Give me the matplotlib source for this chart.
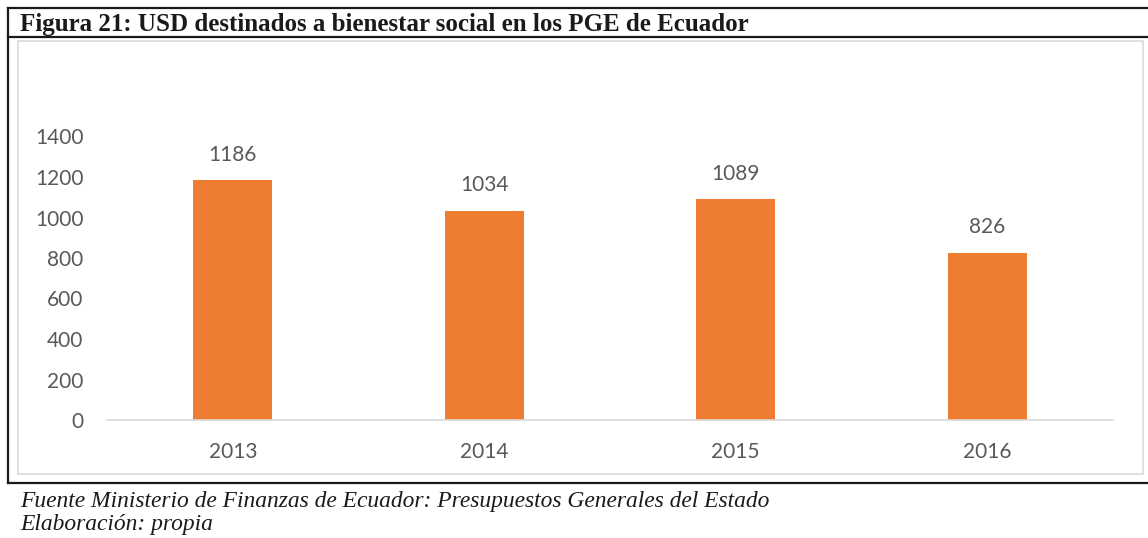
import matplotlib.pyplot as plt
from matplotlib.lines import Line2D
from matplotlib.patches import Rectangle

# Data
years = ['2013', '2014', '2015', '2016']
usd = [1186, 1034, 1089, 826]

W, H = 1148, 538
BAR = '#ED7D31'
GREY_TXT = '#595959'


def fx(px):
    return px / W


def fy(py):
    return 1 - py / H


fig = plt.figure(figsize=(W / 100, H / 100), dpi=100)

# Outer black frame (title box + chart box)
for x0, y0, x1, y1 in [(8, 8, W, 8), (8, 37, W, 37), (8, 483, W, 483), (8, 8, 8, 483)]:
    fig.add_artist(Line2D([fx(x0), fx(x1)], [fy(y0), fy(y1)], color='#1a1a1a', lw=1.6))

# Light grey chart area border
fig.add_artist(Rectangle((fx(18), fy(474)), fx(1143 - 18), (474 - 41) / H,
                         fill=False, edgecolor='#D9D9D9', lw=1.2))

fig.text(fx(20), fy(31), 'Figura 21: USD destinados a bienestar social en los PGE de Ecuador',
         family='Liberation Serif', fontweight='bold', fontsize=18, color='#1a1a1a', va='baseline')
fig.text(fx(20), fy(507), 'Fuente Ministerio de Finanzas de Ecuador: Presupuestos Generales del Estado',
         family='Liberation Serif', style='italic', fontsize=16.9, color='#1a1a1a', va='baseline')
fig.text(fx(20), fy(530), 'Elaboración: propia',
         family='Liberation Serif', style='italic', fontsize=16.9, color='#1a1a1a', va='baseline')

ax = fig.add_axes([fx(107), fy(420), fx(1113 - 107), (420 - 136.5) / H])
x = range(len(years))
bars = ax.bar(x, usd, width=0.314, color=BAR)
for b, v in zip(bars, usd):
    ax.annotate(str(v), (b.get_x() + b.get_width() / 2, v), xytext=(0, 11),
                textcoords='offset points', ha='center', va='bottom',
                fontsize=15, color=GREY_TXT, family='Lato')

ax.set_xlim(-0.5, 3.5)
ax.set_ylim(0, 1400)
ax.set_yticks(range(0, 1401, 200))
ax.set_xticks(list(x))
ax.set_xticklabels(years)
ax.tick_params(length=0, labelsize=15, labelcolor=GREY_TXT)
ax.tick_params(axis='y', pad=17)
ax.tick_params(axis='x', pad=16)
for lbl in ax.get_xticklabels() + ax.get_yticklabels():
    lbl.set_family('Lato')
for s in ['top', 'right', 'left']:
    ax.spines[s].set_visible(False)
ax.spines['bottom'].set_color('#D9D9D9')
ax.spines['bottom'].set_linewidth(1.2)
ax.patch.set_alpha(0)

fig.savefig('out.png', dpi=100)
